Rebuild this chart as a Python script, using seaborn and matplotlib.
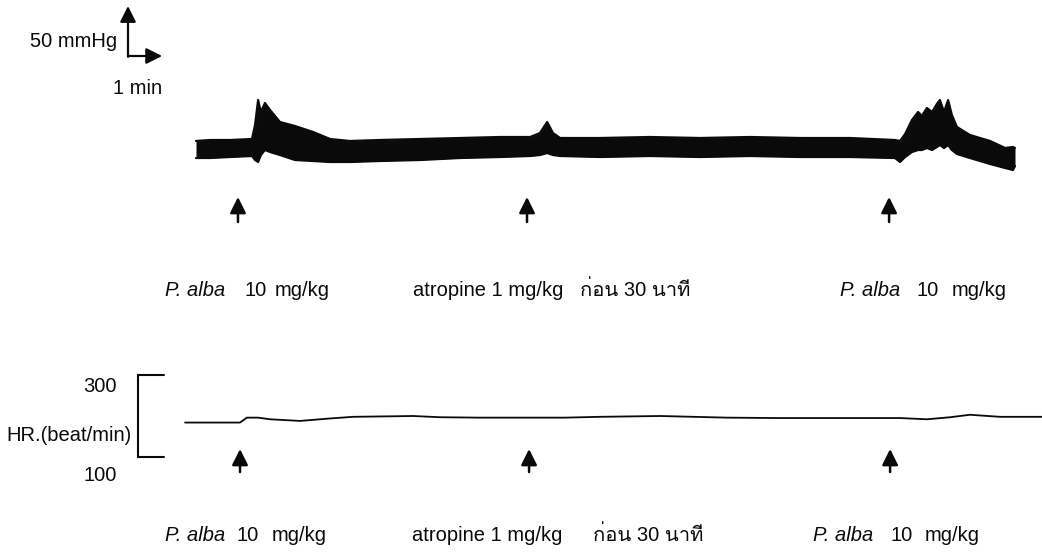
import matplotlib
matplotlib.use("Agg")
import matplotlib.pyplot as plt
from matplotlib import font_manager
from matplotlib.ft2font import FT2Font
import numpy as np
import pandas as pd
import seaborn as sns

# ---------------- data ----------------
# Arterial blood pressure trace: time (min) and pulse envelope (mmHg)
bp_time = [0.00, 0.41, 1.00, 1.64, 1.73, 1.82, 1.90, 2.02, 2.17, 2.46, 2.90, 3.43,
           3.93, 4.51, 5.39, 6.56, 7.74, 8.91, 9.79, 10.08, 10.29, 10.46, 10.67,
           11.84, 13.30, 14.77, 16.23, 17.70, 19.16, 20.48, 20.63, 20.78, 20.98,
           21.16, 21.27, 21.42, 21.57, 21.71, 21.80, 21.92, 22.04, 22.15, 22.30,
           22.68, 23.27, 23.71, 23.94, 24.00]
bp_systolic = [97, 98, 98, 99, 113, 138, 126, 135, 128, 116, 112, 106,
               99, 97, 98, 99, 100, 101, 101, 105, 116, 105, 100,
               100, 101, 100, 101, 100, 100, 98, 97, 104, 118,
               126, 122, 130, 126, 134, 138, 126, 138, 123, 111,
               103, 97, 90, 91, 90]
bp_diastolic = [80, 80, 81, 82, 78, 76, 83, 88, 86, 83, 78, 77,
                76, 76, 77, 78, 80, 81, 82, 83, 85, 83, 82,
                81, 82, 81, 82, 81, 81, 80, 76, 81, 86,
                88, 88, 90, 88, 91, 93, 90, 93, 88, 84,
                80, 74, 70, 68, 72]

# Heart rate trace: time (min), beat/min
hr_time = [-0.32, 1.29, 1.49, 1.82, 2.17, 3.05, 3.93, 4.60, 6.36, 7.15, 8.32,
           10.81, 11.84, 13.60, 15.56, 17.11, 20.63, 21.42, 22.10, 22.68, 23.56, 24.79]
hr_bpm = [184, 184, 196, 196, 192, 188, 194, 198, 200, 197, 196,
          196, 198, 200, 196, 195, 195, 192, 197, 203, 198, 198]

# Drug administration times (min) marked on each trace
bp_dose_times = [1.23, 9.70, 20.31]
hr_dose_times = [1.29, 9.76, 20.34]

# Scale bar and HR range
scale_mmhg = 50
scale_min = 1
hr_range = [100, 300]

# Treatment labels: (italic part, dose, unit) and the atropine pretreatment
species = "P. alba"
dose_value = "10"
dose_unit = "mg/kg"
atropine_text = "atropine 1 mg/kg"
atropine_thai = "ก่อน 30 นาที"

# ---------------- layout ----------------
W, H = 1042, 556
PX_PER_MIN = 34.125      # horizontal time scale
T0_PX = 196              # pixel column of t = 0
BP_ZERO_PX = 238         # pixel row of 0 mmHg (1 px per mmHg)
HR_PX_PER_BPM = 0.41
HR_100_PX = 457          # pixel row of 100 beat/min
SPLIT_PX = 300           # boundary between the two panels


def thai_capable_family():
    code = ord("ก")
    for entry in font_manager.fontManager.ttflist:
        try:
            if code in FT2Font(entry.fname).get_charmap():
                return entry.name
        except Exception:
            continue
    return None


sns.set_theme(style="white")
thai_family = thai_capable_family()
families = ["Liberation Sans"] + ([thai_family] if thai_family else []) + ["DejaVu Sans"]
plt.rcParams["font.family"] = families

fig = plt.figure(figsize=(W / 100, H / 100), dpi=100)
fig.patch.set_facecolor("white")

xlim = (-T0_PX / PX_PER_MIN, (W - T0_PX) / PX_PER_MIN)

ax_bp = fig.add_axes([0, 1 - SPLIT_PX / H, 1, SPLIT_PX / H])
ax_bp.set_xlim(xlim)
ax_bp.set_ylim(BP_ZERO_PX - SPLIT_PX, BP_ZERO_PX)

ax_hr = fig.add_axes([0, 0, 1, 1 - SPLIT_PX / H])
ax_hr.set_xlim(xlim)
ax_hr.set_ylim(100 - (H - HR_100_PX) / HR_PX_PER_BPM,
               100 + (HR_100_PX - SPLIT_PX) / HR_PX_PER_BPM)

for ax in (ax_bp, ax_hr):
    ax.set_axis_off()

ink = "#0a0a0a"

# ---- blood pressure band ----
bp = pd.DataFrame({"t": bp_time, "sys": bp_systolic, "dia": bp_diastolic})
ax_bp.fill_between(bp["t"], bp["dia"], bp["sys"], color=ink, linewidth=0)
sns.lineplot(data=bp, x="t", y="sys", ax=ax_bp, color=ink, linewidth=1.6)
sns.lineplot(data=bp, x="t", y="dia", ax=ax_bp, color=ink, linewidth=1.6)
ax_bp.set_axis_off()

# ---- heart rate line ----
hr = pd.DataFrame({"t": hr_time, "bpm": hr_bpm})
sns.lineplot(data=hr, x="t", y="bpm", ax=ax_hr, color=ink, linewidth=1.3)
ax_hr.set_axis_off()

arrow_style = "-|>,head_length=0.8,head_width=0.4"

# dose arrows under each trace
for t in bp_dose_times:
    ax_bp.annotate("", xy=(t, BP_ZERO_PX - 197), xytext=(t, BP_ZERO_PX - 222),
                   arrowprops=dict(arrowstyle=arrow_style, color=ink, lw=1.8,
                                   mutation_scale=12, shrinkA=0, shrinkB=0))
for t in hr_dose_times:
    y_tip = 100 + (HR_100_PX - 449) / HR_PX_PER_BPM
    y_tail = 100 + (HR_100_PX - 472) / HR_PX_PER_BPM
    ax_hr.annotate("", xy=(t, y_tip), xytext=(t, y_tail),
                   arrowprops=dict(arrowstyle=arrow_style, color=ink, lw=1.8,
                                   mutation_scale=12, shrinkA=0, shrinkB=0))

# ---- calibration scale bar (50 mmHg / 1 min) ----
sb_t = (128 - T0_PX) / PX_PER_MIN
sb_p = BP_ZERO_PX - 56
ax_bp.annotate("", xy=(sb_t, sb_p + scale_mmhg), xytext=(sb_t, sb_p - 0.8),
               arrowprops=dict(arrowstyle=arrow_style, color=ink, lw=1.6,
                               mutation_scale=12, shrinkA=0, shrinkB=0))
ax_bp.annotate("", xy=(sb_t + scale_min, sb_p), xytext=(sb_t, sb_p),
               arrowprops=dict(arrowstyle=arrow_style, color=ink, lw=1.6,
                               mutation_scale=12, shrinkA=0, shrinkB=0))

# ---- HR range bracket ----
br_t = (138 - T0_PX) / PX_PER_MIN
br_end = (164 - T0_PX) / PX_PER_MIN
ax_hr.plot([br_end, br_t, br_t, br_end],
           [hr_range[1], hr_range[1], hr_range[0], hr_range[0]],
           color=ink, lw=1.5, solid_joinstyle="miter")

# ---------------- text ----------------
FS = 14.5


def put(x_px, y_px, s, ha="left", **kw):
    fig.text(x_px / W, 1 - y_px / H, s, ha=ha, va="baseline", fontsize=FS,
             color=ink, **kw)


put(117, 47, f"{scale_mmhg} mmHg", ha="right")
put(113, 94, f"{scale_min} min")
put(117, 392, str(hr_range[1]), ha="right")
put(117, 481, str(hr_range[0]), ha="right")
put(6, 441, "HR.(beat/min)")


def dose_label(x_species, x_value, x_unit, y):
    put(x_species, y, species, style="italic")
    put(x_value, y, dose_value)
    put(x_unit, y, dose_unit)


def atropine_label(x_en, x_th, y):
    put(x_en, y, atropine_text)
    put(x_th, y, atropine_thai)


# labels under the pressure trace
dose_label(165, 245, 275, 296)
atropine_label(413, 580, 296)
dose_label(840, 917, 952, 296)

# labels under the heart-rate trace
dose_label(165, 237, 272, 541)
atropine_label(412, 593, 541)
dose_label(813, 890, 925, 541)

fig.savefig("out.png", dpi=100, facecolor="white")
